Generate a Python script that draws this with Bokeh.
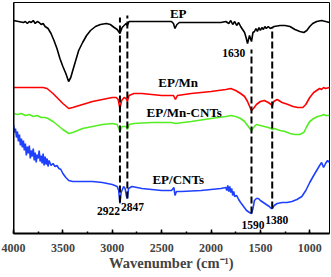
from bokeh.plotting import figure
from bokeh.models import Range1d, SingleIntervalTicker, Span
from bokeh.core.properties import value
from bokeh.embed import file_html
from bokeh.resources import INLINE

# ---- data (transmittance in arbitrary units, offset per curve) ----
ep_wn = [4000, 3950, 3900, 3880, 3860, 3840, 3820, 3800, 3780, 3760, 3740, 3720, 3700, 3680, 3650,
         3620, 3590, 3560, 3530, 3500, 3470, 3442, 3420, 3400, 3370, 3340, 3300, 3260, 3220, 3170,
         3120, 3060, 3020, 2980, 2950, 2922, 2900, 2880, 2860, 2847, 2830, 2700, 2500, 2400, 2380,
         2365, 2345, 2320, 2100, 1950, 1900, 1850, 1820, 1800, 1780, 1760, 1740, 1720, 1700, 1680,
         1660, 1645, 1630, 1610, 1590, 1575, 1560, 1545, 1530, 1515, 1500, 1485, 1470, 1455, 1440,
         1420, 1400, 1380, 1360, 1300, 1250, 1200, 1150, 1100, 1060, 1030, 1000, 970, 930, 880, 840, 800]
ep_py = [20, 21, 22, 21, 23, 21, 22, 20, 23, 21, 22, 24, 23, 26, 28,
         33, 40, 48, 58, 66, 73, 81, 77, 70, 60, 50, 42, 35, 30, 26,
         24, 23, 24, 27, 29, 33, 27, 25, 23, 25, 21, 21, 21, 21, 23,
         28, 24, 22, 22, 22, 22, 21, 23, 20, 24, 21, 25, 22, 26, 29,
         32, 37, 43, 35, 41, 32, 31, 28, 31, 27, 30, 27, 29, 26, 28,
         26, 28, 27, 26, 25, 25, 26, 29, 31, 32, 30, 26, 23, 21, 20, 21, 22]

mn_wn = [4000, 3900, 3800, 3700, 3660, 3600, 3550, 3500, 3440, 3400, 3300, 3200, 3100, 3000, 2960,
         2940, 2922, 2905, 2880, 2860, 2847, 2830, 2780, 2700, 2500, 2380, 2360, 2340, 2200, 2000,
         1850, 1800, 1750, 1700, 1660, 1630, 1600, 1590, 1570, 1540, 1500, 1460, 1420, 1390, 1380,
         1365, 1330, 1280, 1220, 1170, 1120, 1070, 1040, 1000, 960, 930, 900, 880, 860, 840, 800]
mn_py = [87, 87, 87, 87, 88, 93, 98, 103, 108, 107, 104, 101, 99, 97, 97,
         99, 108, 100, 97, 98, 101, 95, 93, 93, 95, 95, 99, 95, 93, 91,
         89, 88, 90, 93, 96, 101, 108, 110, 108, 104, 101, 100, 102, 104, 106,
         101, 99, 102, 104, 106, 107, 107, 104, 97, 92, 90, 88, 89, 87, 88, 87]

mc_wn = [4000, 3960, 3920, 3880, 3840, 3800, 3760, 3720, 3680, 3650, 3600, 3550, 3500, 3440, 3400,
         3300, 3200, 3100, 3000, 2950, 2922, 2900, 2880, 2860, 2847, 2830, 2780, 2600, 2400, 2360,
         2200, 2000, 1850, 1800, 1750, 1700, 1660, 1630, 1600, 1590, 1570, 1540, 1500, 1460, 1420,
         1390, 1380, 1360, 1300, 1250, 1200, 1150, 1100, 1060, 1030, 1000, 960, 920, 880, 860, 840, 800]
mc_py = [113, 114, 113, 115, 114, 116, 115, 117, 117, 118, 121, 125, 129, 133, 132,
         128, 126, 124, 123, 124, 131, 126, 126, 126, 129, 124, 123, 122, 122, 123,
         121, 118, 116, 115, 116, 118, 121, 125, 129, 130, 127, 124, 125, 126, 127,
         128, 129, 128, 130, 131, 133, 134, 134, 132, 126, 121, 118, 116, 115, 114, 115, 115]

cn_wn = [4000, 3990, 3980, 3970, 3960, 3950, 3940, 3930, 3920, 3910, 3900, 3890, 3880, 3870, 3860,
         3850, 3840, 3830, 3820, 3810, 3800, 3790, 3780, 3770, 3760, 3750, 3740, 3730, 3720, 3710,
         3700, 3690, 3680, 3670, 3660, 3650, 3640, 3620, 3600, 3580, 3560, 3540, 3520, 3500, 3470,
         3440, 3400, 3300, 3200, 3100, 3000, 2950, 2935, 2922, 2910, 2885, 2870, 2855, 2847, 2835,
         2800, 2700, 2500, 2400, 2375, 2365, 2350, 2300, 2100, 2000, 1900, 1850, 1840, 1830, 1820,
         1810, 1800, 1790, 1780, 1770, 1760, 1740, 1720, 1700, 1670, 1640, 1610, 1590, 1575, 1560,
         1540, 1520, 1500, 1470, 1440, 1410, 1390, 1380, 1360, 1330, 1280, 1230, 1180, 1130, 1080,
         1040, 1000, 960, 930, 900, 880, 860, 840, 820, 800]
cn_py = [124, 132, 128, 137, 131, 141, 134, 145, 138, 147, 140, 150, 143, 155, 146,
         153, 145, 158, 150, 156, 148, 160, 152, 162, 154, 158, 150, 161, 155, 163,
         153, 165, 156, 164, 158, 166, 160, 165, 163, 166, 165, 168, 169, 173, 177,
         180, 181, 181, 181, 182, 184, 186, 190, 203, 192, 186, 188, 196, 198, 188,
         186, 188, 190, 190, 187, 195, 191, 191, 190, 189, 188, 187, 190, 185, 191,
         186, 192, 188, 195, 191, 196, 195, 199, 202, 206, 210, 212, 213, 208, 200,
         198, 198, 200, 202, 204, 206, 208, 208, 205, 203, 202, 202, 201, 199, 196,
         190, 182, 175, 170, 165, 162, 167, 163, 160, 162]

BASE = 233  # transmittance = BASE - reading
ep_t = [BASE - v for v in ep_py]
mn_t = [BASE - v for v in mn_py]
mc_t = [BASE - v for v in mc_py]
cn_t = [BASE - v for v in cn_py]

dash_wn = [2922, 2847, 1590, 1380]
dash_top = [216, 218, 184, 206]
dash_bot = [31, 35, 20, 25]

curve_labels = ["EP", "EP/Mn", "EP/Mn-CNTs", "EP/CNTs"]
curve_label_wn = [2332, 2332, 2271, 2332]
curve_label_t = [220, 151, 121, 54]

peak_labels = ["1630", "2922", "2847", "1590", "1380"]
peak_label_wn = [1770, 3038, 2796, 1575, 1333]
peak_label_t = [181, 23, 27, 9, 14]

FONT = "Liberation Serif"

p = figure(width=331, height=277, output_backend="svg", toolbar_location=None,
           x_range=Range1d(4000, 800), y_range=Range1d(0, 231),
           min_border_left=13, min_border_right=2, min_border_top=2, min_border_bottom=44)
p.grid.visible = False
p.yaxis.visible = False
p.outline_line_color = "black"
p.outline_line_width = 1
p.background_fill_color = "white"
p.border_fill_color = "white"

p.line(ep_wn, ep_t, color="black", line_width=1.6)
p.line(mn_wn, mn_t, color="#ff0000", line_width=1.6)
p.line(mc_wn, mc_t, color="#55ee22", line_width=1.6)
p.line(cn_wn, cn_t, color="#2040ff", line_width=1.6)

p.segment(x0=dash_wn, y0=dash_bot, x1=dash_wn, y1=dash_top, color="black",
          line_width=2, line_dash="7 3")

p.text(x=curve_label_wn, y=curve_label_t, text=curve_labels, text_font=value(FONT),
       text_font_style="bold", text_font_size="13px", text_align="center",
       text_baseline="middle", color="black")
p.text(x=peak_label_wn, y=peak_label_t, text=peak_labels, text_font=value(FONT),
       text_font_style="bold", text_font_size="11.5px", text_align="center",
       text_baseline="middle", color="black")

p.add_layout(Span(location=4000, dimension="height", line_color="black", line_width=2))

ax = p.xaxis[0]
ax.ticker = SingleIntervalTicker(interval=500, num_minor_ticks=2)
ax.axis_line_width = 2
ax.major_tick_in = 4
ax.major_tick_out = 0
ax.minor_tick_in = 2
ax.minor_tick_out = 0
ax.major_tick_line_width = 1.5
ax.minor_tick_line_width = 1.5
ax.major_label_text_font = FONT
ax.major_label_text_font_style = "bold"
ax.major_label_text_font_size = "12px"
ax.major_label_standoff = 10
ax.axis_label = "Wavenumber (cm⁻¹)"
ax.axis_label_text_font = FONT
ax.axis_label_text_font_style = "bold"
ax.axis_label_text_font_size = "14.5px"
ax.axis_label_standoff = 0

open("out.html", "w").write(file_html(p, INLINE))
